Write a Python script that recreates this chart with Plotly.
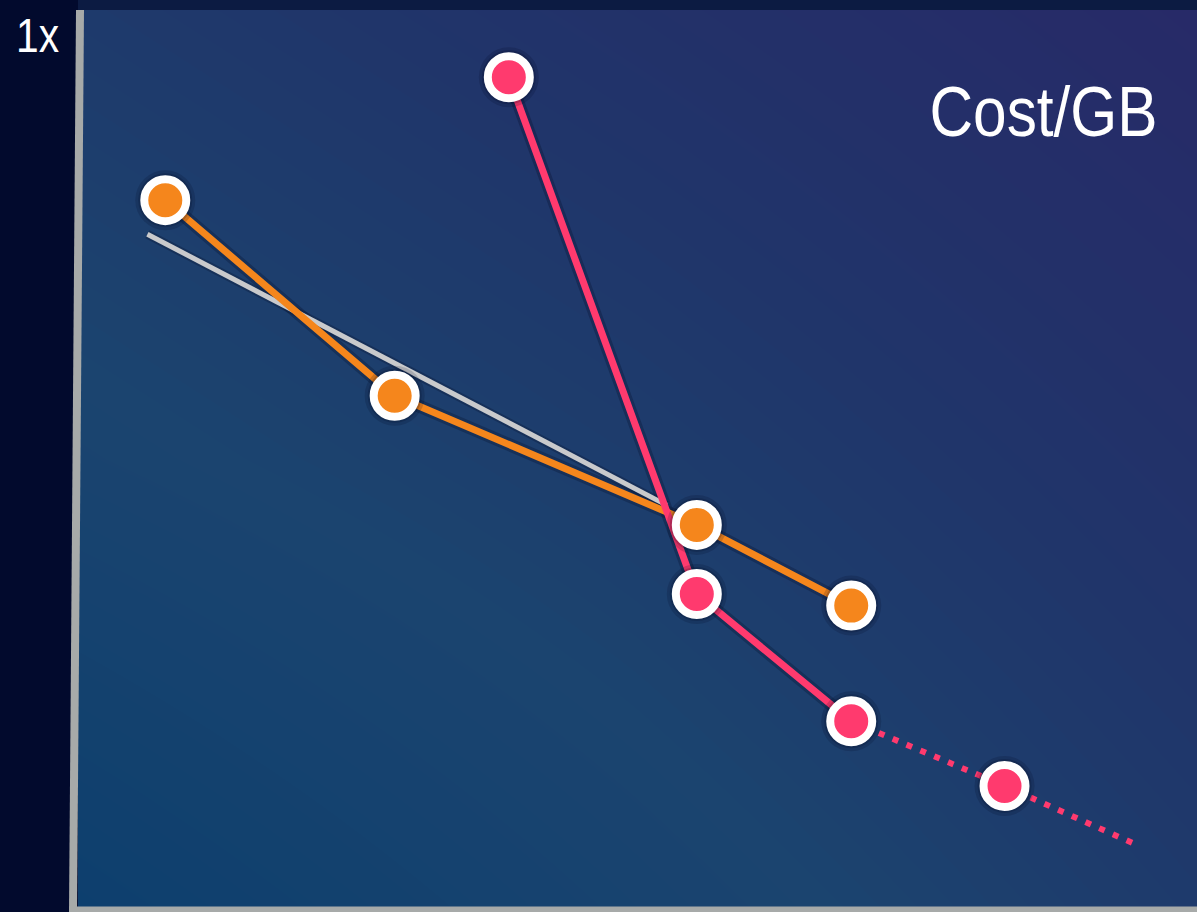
import plotly.graph_objects as go

# ---- data (arbitrary relative units, 0-100 on both axes) ----
orange_x = [7.8, 28.3, 55.3, 69.1]
orange_y = [78.8, 57.0, 42.6, 33.6]

pink_x = [38.5, 55.3, 69.1, 82.8]
pink_y = [92.5, 34.9, 20.7, 13.5]

pink_proj_x = [69.1, 82.8, 94.3]
pink_proj_y = [20.7, 13.5, 7.1]

trend_x = [6.2, 52.6]
trend_y = [75.0, 44.8]

y_label_top = "1x"
chart_title = "Cost/GB"

ORANGE = "#F5861C"
PINK = "#FF3A6E"
GRAY = "#C9CACC"
FONT = "Liberation Sans, Arial, Helvetica, sans-serif"

fig = go.Figure()

# background gradient
fig.add_trace(go.Heatmap(
    x=[0, 50, 100], y=[0, 50, 100],
    z=[[0.0, 0.3, 0.6], [0.35, 0.55, 0.8], [0.6, 0.8, 1.0]],
    zsmooth="best", showscale=False, hoverinfo="skip",
    colorscale=[[0.0, "#0d3f6e"], [0.4, "#1b446f"], [0.7, "#20356a"], [1.0, "#272a68"]],
))

shadow = "rgba(2,8,30,0.25)"
# line shadows
for xs, ys, w in [(trend_x, trend_y, 9), (orange_x, orange_y, 13), (pink_x[:3], pink_y[:3], 13)]:
    fig.add_trace(go.Scatter(x=xs, y=ys, mode="lines", line=dict(color=shadow, width=w),
                             hoverinfo="skip", showlegend=False))

fig.add_trace(go.Scatter(x=trend_x, y=trend_y, mode="lines",
                         line=dict(color=GRAY, width=5), showlegend=False))
fig.add_trace(go.Scatter(x=orange_x, y=orange_y, mode="lines",
                         line=dict(color=ORANGE, width=7), showlegend=False))
fig.add_trace(go.Scatter(x=pink_x[:3], y=pink_y[:3], mode="lines",
                         line=dict(color=PINK, width=7), showlegend=False))
fig.add_trace(go.Scatter(x=pink_proj_x, y=pink_proj_y, mode="lines",
                         line=dict(color=PINK, width=6, dash="6px,9px"), showlegend=False))

# marker shadows (soft halo)
fig.add_trace(go.Scatter(x=orange_x + pink_x, y=orange_y + pink_y, mode="markers",
                         marker=dict(size=60, color="rgba(2,8,30,0.16)", line=dict(width=0)),
                         hoverinfo="skip", showlegend=False))
fig.add_trace(go.Scatter(x=orange_x + pink_x, y=orange_y + pink_y, mode="markers",
                         marker=dict(size=54, color="rgba(2,8,30,0.18)", line=dict(width=0)),
                         hoverinfo="skip", showlegend=False))

fig.add_trace(go.Scatter(x=orange_x, y=orange_y, mode="markers",
                         marker=dict(size=42, color=ORANGE, line=dict(color="white", width=8)),
                         showlegend=False))
fig.add_trace(go.Scatter(x=pink_x, y=pink_y, mode="markers",
                         marker=dict(size=42, color=PINK, line=dict(color="white", width=8)),
                         showlegend=False))

W, H = 1197, 912
L, T, B = 78, 10, 5
pw, ph = W - L, H - T - B

def px(xp):
    return (xp - L) / pw

def py(yp):
    return (H - B - yp) / ph

fig.update_layout(
    width=W, height=H,
    margin=dict(l=L, r=0, t=T, b=B, pad=0),
    paper_bgcolor="#020a2d",
    plot_bgcolor="#1b3f6e",
    showlegend=False,
    xaxis=dict(range=[0, 100], visible=False, fixedrange=True),
    yaxis=dict(range=[0, 100], visible=False, fixedrange=True),
    shapes=[
        dict(type="rect", xref="paper", yref="paper", x0=0, x1=1, y0=1, y1=py(0),
             fillcolor="#0c1b42", line=dict(width=0), layer="above"),
        dict(type="line", xref="paper", yref="paper", x0=px(80), x1=px(73), y0=py(10), y1=py(912),
             line=dict(color="#A7AAA9", width=8), layer="above"),
        dict(type="line", xref="paper", yref="paper", x0=px(69), x1=1.0, y0=py(909.5), y1=py(909.5),
             line=dict(color="#A7AAA9", width=6), layer="above"),
    ],
    annotations=[
        dict(text=y_label_top, xref="paper", yref="paper", x=px(14), y=py(35),
             xanchor="left", yanchor="middle", showarrow=False,
             font=dict(family=FONT, size=49, color="white")),
        dict(text=chart_title, xref="paper", yref="paper", x=px(1160), y=py(112),
             xanchor="right", yanchor="middle", showarrow=False,
             font=dict(family=FONT, size=70, color="white")),
    ],
)

# condense the (Helvetica-style narrow) labels horizontally, keeping them as real text
post = """
(function(){
  var gd = document.getElementById('{plot_id}');
  document.body.style.margin = '0';
  document.body.style.padding = '0';
  var spec = {'1x': [43, 'start'], 'Cost/GB': [228, 'end']};
  function fix(){
    var els = gd.querySelectorAll('text.annotation-text');
    els.forEach(function(t){
      var s = spec[t.textContent];
      if (s && !t.getAttribute('textLength')) {
        var bb = t.getBBox();
        t.setAttribute('text-anchor', s[1]);
        t.setAttribute('x', s[1] === 'end' ? bb.x + bb.width : bb.x);
        t.setAttribute('textLength', s[0]);
        t.setAttribute('lengthAdjust', 'spacingAndGlyphs');
      }
    });
  }
  fix();
  if (gd.on) gd.on('plotly_afterplot', fix);
})();
"""

fig.write_html("out.html", config={"displayModeBar": False}, post_script=post)
